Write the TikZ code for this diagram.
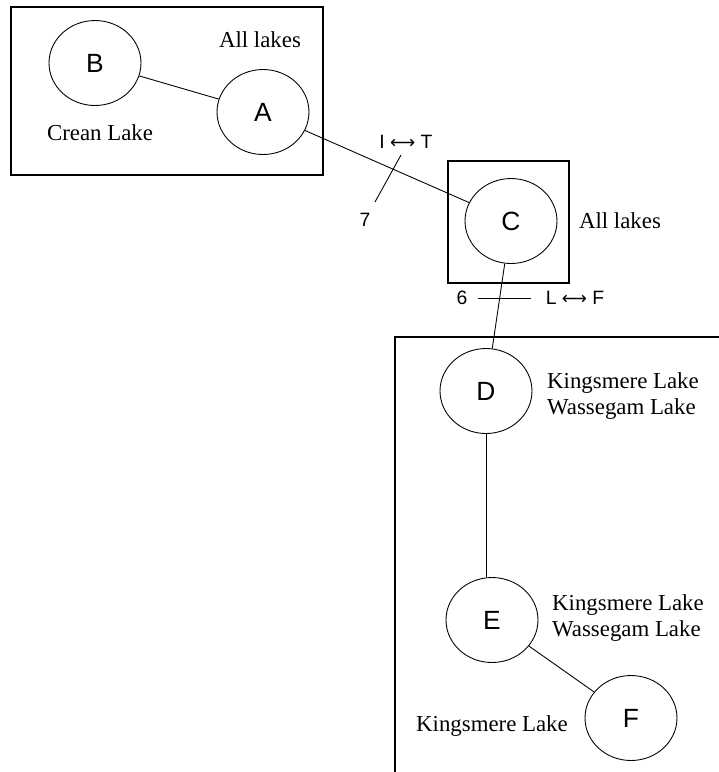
\documentclass[tikz,border=0pt]{standalone}
\usepackage{fontspec}
\setmainfont{Liberation Serif}
\setsansfont{Liberation Sans}
\newfontfamily\arrowfont{DejaVu Sans}
\usetikzlibrary{shapes.geometric}

\newcommand{\lr}{{\arrowfont\fontsize{10}{12}\selectfont\char"27F7}}

\begin{document}
\begin{tikzpicture}[x=0.02cm, y=-0.02cm,
    lake/.style={ellipse, draw, line width=0.5pt, minimum width=1.84cm,
                 minimum height=1.7cm, inner sep=0pt,
                 font=\sffamily\fontsize{15}{15}\selectfont},
    group/.style={draw, line width=1pt},
    note/.style={align=left, font=\fontsize{13}{15}\selectfont},
    cut/.style={font=\sffamily\fontsize{11}{13}\selectfont},
    link/.style={line width=0.5pt}
  ]
  \useasboundingbox (0,0) rectangle (719,772);

  % grouping boxes
  \draw[group] (11,7) rectangle (323,175);
  \draw[group] (448,161) rectangle (569,283);
  \begin{scope}
    \clip (0,0) rectangle (719,772);
    \draw[group] (395,337) rectangle (740,790);
  \end{scope}

  \node[lake] (B) at (95,63)   {B};
  \node[lake] (A) at (263,112) {A};
  \node[lake] (C) at (511,221) {C};
  \node[lake] (D) at (486,391) {D};
  \node[lake] (E) at (492,620) {E};
  \node[lake] (F) at (631,718) {F};

  \draw[link] (B) -- (A);
  \draw[link] (A) -- (C);
  \draw[link] (C) -- (D);
  \draw[link] (D) -- (D |- E.north);
  \draw[link] (E) -- (F);

  % split marks
  \coordinate (s1a) at (401,155);
  \coordinate (s1b) at (375,202);
  \draw[link] (s1a) -- (s1b);
  \node[cut] (it) at (406,142) {I \lr{} T};
  \node[cut] (n7) at (365,220) {7};

  \coordinate (s2a) at (478,298);
  \coordinate (s2b) at (531,298);
  \draw[link] (s2a) -- (s2b);
  \node[cut] (n6) at (462,298) {6};
  \node[cut] (lf) at (575,298) {L \lr{} F};

  \node[note] (allA) at (260,40)  {All lakes};
  \node[note] (crean) at (100,133) {Crean Lake};
  \node[note] (allC) at (620,221) {All lakes};
  \node[note] (kwD) at (623,396) {Kingsmere Lake\\Wassegam Lake};
  \node[note] (kwE) at (628,618) {Kingsmere Lake\\Wassegam Lake};
  \node[note] (kF)  at (492,726) {Kingsmere Lake};
\end{tikzpicture}
\end{document}
